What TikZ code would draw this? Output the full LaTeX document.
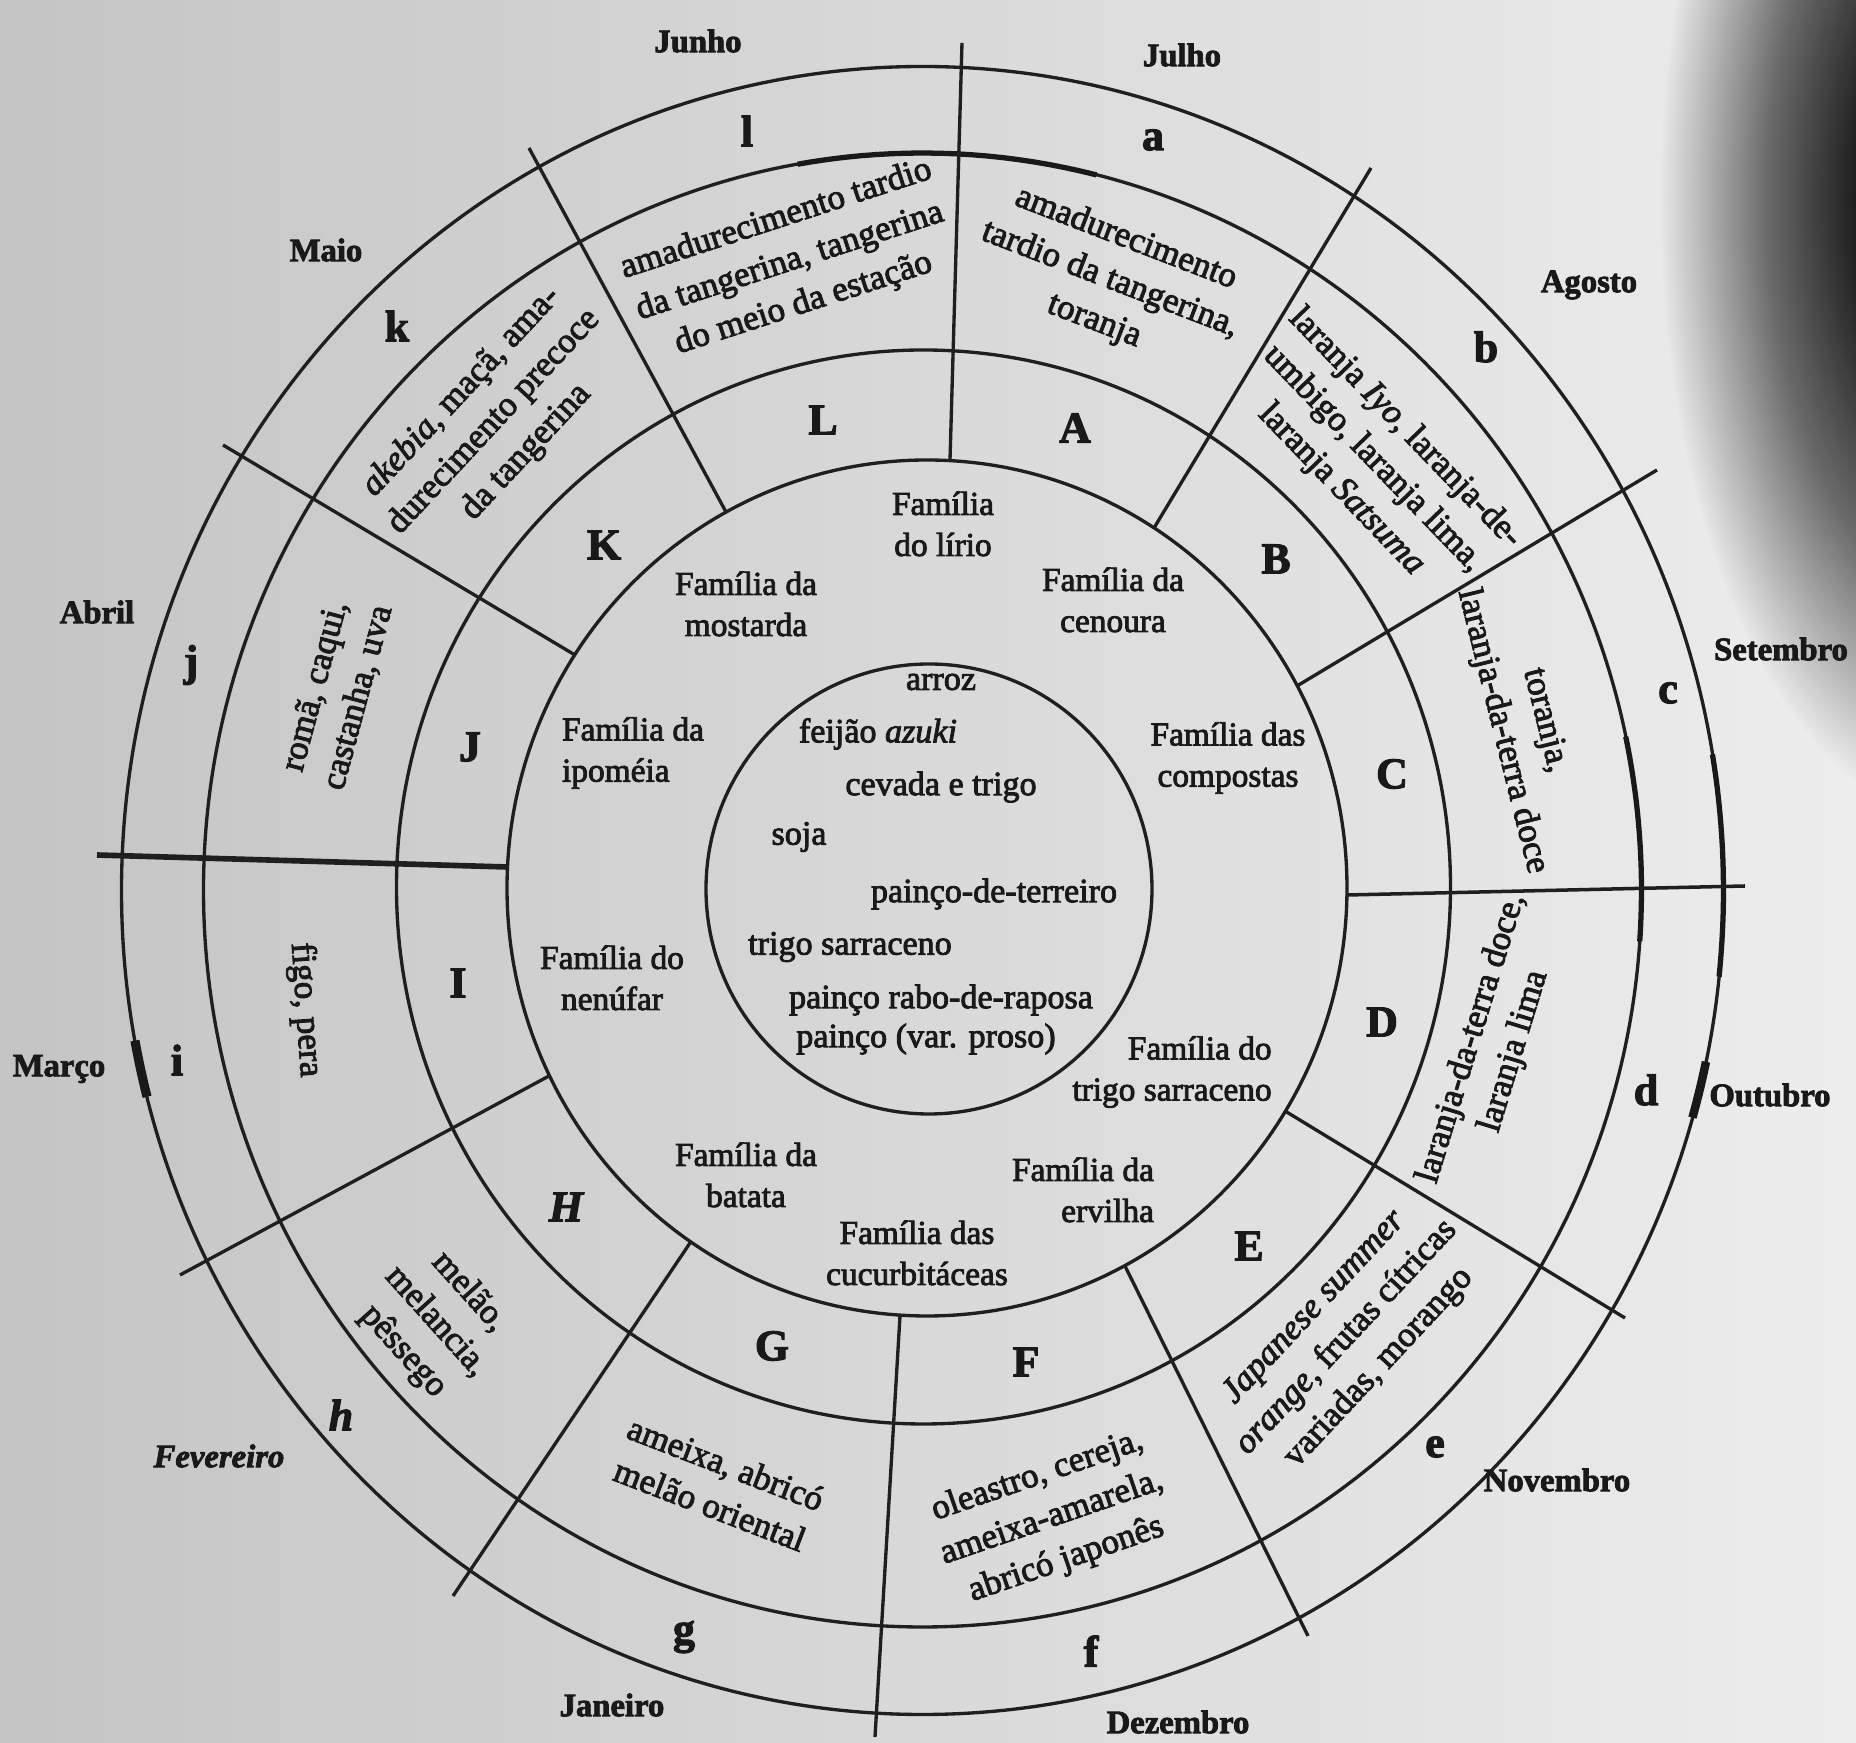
\documentclass[tikz,border=0pt]{standalone}
\usepackage{fontspec}
\setmainfont{Liberation Serif}[FakeBold=2.5]
\usetikzlibrary{fadings}
% soft radial fade: opaque core, smooth falloff to a transparent rim
\pgfdeclareradialshading{softcornershade}{\pgfpointorigin}{color(0bp)=(pgftransparent!0); color(8bp)=(pgftransparent!10); color(16bp)=(pgftransparent!45); color(25bp)=(pgftransparent!100); color(50bp)=(pgftransparent!100)}
\pgfdeclarefading{softcorner}{\pgfuseshading{softcornershade}}

\begin{document}
\begin{tikzpicture}[x=0.1mm, y=-0.1mm,
  ring/.style={line width=0.95pt, draw=black!88},
  spoke/.style={line width=0.95pt, draw=black!88},
  retouch/.style={line width=1.5pt, draw=black!90},
  crop/.style={font=\fontsize{9.7}{11.2}\selectfont, text=black!90, inner sep=0pt},
  family/.style={font=\fontsize{9.5}{11.7}\selectfont, align=center, text=black!90, inner sep=0pt},
  fruit/.style={font=\fontsize{10}{12.6}\selectfont, align=center, text=black!90, inner sep=0pt},
  bigletter/.style={font=\fontsize{12.5}{14}\selectfont\bfseries, text=black!90, inner sep=0pt},
  month/.style={font=\fontsize{9.3}{11}\selectfont\bfseries, text=black!90, inner sep=0pt},
]
\useasboundingbox (0,0) rectangle (1856,1743);

% paper and the shadow in the upper right corner
\fill[left color=gray!46, right color=gray!14] (0,0) rectangle (1856,1743);
\fill[black, path fading=softcorner] (1960,200) ellipse [x radius=300, y radius=620];

% concentric rings
\draw[ring] (929,889) ellipse [x radius=223, y radius=225];
\draw[ring] (927,888) ellipse [x radius=420, y radius=428];
\draw[ring] (923.5,887) ellipse [x radius=527, y radius=537];
\draw[ring] (922.5,890) ellipse [x radius=719, y radius=737];
\draw[ring] (922.5,890.5) ellipse [x radius=801, y radius=824];

% darker re-inked pieces of the rings
\draw[retouch] plot[domain=76:100, samples=20] ({922.5+719*cos(\x)}, {890-737*sin(\x)});
\draw[retouch] plot[domain=-4:12, samples=20] ({922.5+719*cos(\x)}, {890-737*sin(\x)});
\draw[retouch] plot[domain=-6:9.5, samples=20] ({922.5+801*cos(\x)}, {890.5-824*sin(\x)});
\draw[retouch, line width=2.6pt] plot[domain=190.5:194.5, samples=8] ({922.5+801*cos(\x)}, {890.5-824*sin(\x)});
\draw[retouch, line width=2.4pt] plot[domain=-16:-12, samples=8] ({922.5+801*cos(\x)}, {890.5-824*sin(\x)});

% month dividers
\draw[spoke] (962,43) -- (950,460);
\draw[spoke] (529,148) -- (726,512);
\draw[spoke] (223,445) -- (575,655);
\draw[spoke, line width=1.6pt] (97,855) -- (507,867);
\draw[spoke] (180,1275) -- (549,1076);
\draw[spoke] (453,1596) -- (691,1241.5);
\draw[spoke] (875,1737) -- (900,1316);
\draw[spoke] (1308,1636) -- (1125,1266);
\draw[spoke] (1625,1318) -- (1285,1111);
\draw[spoke, line width=1pt] (1745,886) -- (1347,895);
\draw[spoke] (1657,470) -- (1297,686);
\draw[spoke] (1371,168) -- (1154,528);

% crops in the centre
\node[crop] (arroz) at (941,682) {arroz};
\node[crop] (feijao) at (878,734) {feijão \textit{azuki}};
\node[crop] (cevada) at (941,787) {cevada e trigo};
\node[crop] (soja) at (799,837) {soja};
\node[crop] (terreiro) at (994,894) {painço-de-terreiro};
\node[crop] (sarraceno) at (850,947) {trigo sarraceno};
\node[crop] (raposa) at (941,1000) {painço rabo-de-raposa};
\node[crop] (proso) at (926,1039) {painço (var. proso)};

% plant families
\node[family] (famlirio) at (943,524) {Família\\do lírio};
\node[family] (famcenoura) at (1113,600) {Família da\\cenoura};
\node[family] (famcompostas) at (1228,758) {Família das\\compostas};
\node[family, align=right] (famtrigo) at (1172,1072) {Família do\\trigo sarraceno};
\node[family, align=right] (famervilha) at (1083,1190) {Família da\\ervilha};
\node[family] (famcucurb) at (917,1253) {Família das\\cucurbitáceas};
\node[family] (fambatata) at (746,1175) {Família da\\batata};
\node[family] (famnenufar) at (612,978) {Família do\\nenúfar};
\node[family, align=left] (famipomeia) at (633,753) {Família da\\ipoméia};
\node[family] (fammostarda) at (746,604) {Família da\\mostarda};

% capital letters
\node[bigletter] (A) at (1075,428) {A};
\node[bigletter] (B) at (1276,559) {B};
\node[bigletter] (C) at (1392,774) {C};
\node[bigletter] (D) at (1382,1022) {D};
\node[bigletter] (E) at (1249,1246) {E};
\node[bigletter] (F) at (1026,1362) {F};
\node[bigletter] (G) at (772,1346) {G};
\node[bigletter, font=\fontsize{12.5}{14}\selectfont\bfseries\itshape] (H) at (566,1207) {H};
\node[bigletter] (I) at (458,983) {I};
\node[bigletter] (J) at (470,747) {J};
\node[bigletter] (K) at (604,545) {K};
\node[bigletter] (L) at (823,420) {L};

% fruits
\node[fruit, rotate=18] (fl) at (790,262) {amadurecimento tardio\\da tangerina, tangerina\\do meio da estação};
\node[fruit, rotate=-21] (fa) at (1110,280) {amadurecimento\\tardio da tangerina,\\toranja};
\node[fruit, rotate=-46] (fb) at (1373,459) {laranja \textit{Iyo}, laranja-de-\\umbigo, laranja lima,\\laranja \textit{Satsuma}};
\node[fruit, rotate=-76] (fc) at (1523,726) {toranja,\\laranja-da-terra doce};
\node[fruit, rotate=73] (fd) at (1493,1045) {laranja-da-terra doce,\\laranja lima};
\node[fruit, rotate=47] (fe) at (1347,1338) {\textit{Japanese summer}\\\textit{orange}, frutas cítricas\\variadas, morango};
\node[fruit, rotate=19] (ff) at (1052,1518) {oleastro, cereja,\\ameixa-amarela,\\abricó japonês};
\node[fruit, rotate=-21] (fg) at (718,1484) {ameixa, abricó\\melão oriental};
\node[fruit, rotate=-48] (fh) at (436,1322) {melão,\\melancia,\\pêssego};
\node[fruit, rotate=-86] (fi) at (305,1010) {figo, pera};
\node[fruit, rotate=75] (fj) at (337,692) {romã, caqui,\\castanha, uva};
\node[fruit, rotate=47] (fk) at (494,422) {\textit{akebia}, maçã, ama-\\durecimento precoce\\da tangerina};

% small letters
\node[bigletter] (a) at (1153,140) {a};
\node[bigletter] (b) at (1486,347) {b};
\node[bigletter] (c) at (1668,693) {c};
\node[bigletter] (d) at (1646,1090) {d};
\node[bigletter] (e) at (1435,1447) {e};
\node[bigletter] (f) at (1091,1651) {f};
\node[bigletter] (g) at (684,1637) {g};
\node[bigletter, font=\fontsize{12.5}{14}\selectfont\bfseries\itshape] (h) at (341,1415) {h};
\node[bigletter] (i) at (177,1060) {i};
\node[bigletter] (j) at (191,665) {j};
\node[bigletter] (k) at (397,326) {k};
\node[bigletter] (l) at (747,131) {l};

% months
\node[month] (jun) at (698,41) {Junho};
\node[month] (jul) at (1182,55) {Julho};
\node[month] (ago) at (1589,285) {Agosto};
\node[month] (set) at (1781,649) {Setembro};
\node[month] (out) at (1770,1095) {Outubro};
\node[month] (nov) at (1557,1480) {Novembro};
\node[month] (dez) at (1178,1722) {Dezembro};
\node[month] (jan) at (612,1705) {Janeiro};
\node[month, font=\fontsize{9.3}{11}\selectfont\bfseries\itshape] (fev) at (219,1456) {Fevereiro};
\node[month] (mar) at (59,1069) {Março};
\node[month] (abr) at (97,612) {Abril};
\node[month] (mai) at (326,250) {Maio};
\end{tikzpicture}
\end{document}
